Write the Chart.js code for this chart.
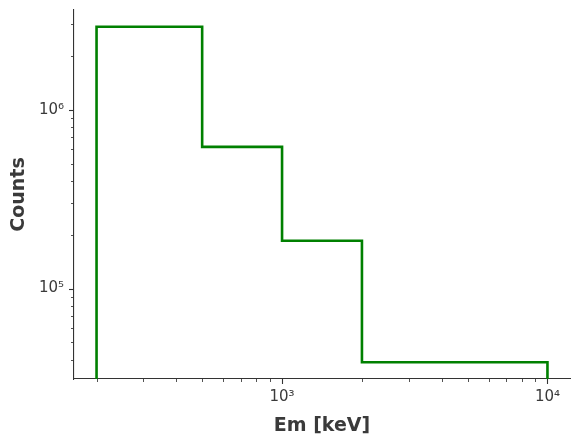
<!DOCTYPE html>
<html>
<head>
<meta charset="utf-8">
<script src="https://cdn.jsdelivr.net/npm/chart.js@4/dist/chart.umd.min.js"></script>
<style>
  html, body { margin: 0; padding: 0; background: #ffffff; }
  #wrap { width: 580px; height: 443px; }
</style>
</head>
<body>
<div id="wrap"><canvas id="c" width="580" height="443"></canvas></div>
<script>
// ---- data ----
const binEdges = [200, 500, 1000, 2000, 10000];          // keV
const binCounts = [2.91e6, 6.2e5, 1.85e5, 3.87e4];        // counts per bin
const xTickLabels = ['10³', '10⁴'];
const yTickLabels = ['10⁵', '10⁶'];
const xMajorValues = [1000, 10000];
const yMajorValues = [1e5, 1e6];
const xTitle = 'Em [keV]';
const yTitle = 'Counts';

// ---- axis limits (matplotlib-like 5% margin in log space) ----
function logLimits(lo, hi) {
  const a = Math.log10(lo), b = Math.log10(hi), m = (b - a) * 0.05;
  return [Math.pow(10, a - m), Math.pow(10, b + m)];
}
const [xMin, xMax] = logLimits(binEdges[0], binEdges[binEdges.length - 1]);
const [yMin, yMax] = logLimits(Math.min(...binCounts), Math.max(...binCounts));

// ---- step outline points ----
const stepPoints = [{x: binEdges[0], y: yMin}];
binCounts.forEach((c, i) => {
  stepPoints.push({x: binEdges[i], y: c});
  stepPoints.push({x: binEdges[i + 1], y: c});
});
stepPoints.push({x: binEdges[binEdges.length - 1], y: yMin});

const AXIS_COLOR = '#333333';
const TEXT_COLOR = '#3a3a3a';
const FONT = "'DejaVu Sans', sans-serif";

function logTicks(min, max) {
  const out = [];
  for (let e = Math.floor(Math.log10(min)); e <= Math.ceil(Math.log10(max)); e++) {
    for (let m = 1; m <= 9; m++) {
      const v = m * Math.pow(10, e);
      if (v >= min && v <= max) out.push({value: v});
    }
  }
  return out;
}
function isMajor(v) {
  const l = Math.log10(v);
  return Math.abs(l - Math.round(l)) < 1e-9;
}
function labelFor(v, majors, labels) {
  for (let i = 0; i < majors.length; i++) {
    if (Math.abs(majors[i] - v) / majors[i] < 1e-9) return labels[i];
  }
  return '';
}

const tickPlugin = {
  id: 'mplTicks',
  afterDraw(chart) {
    const ctx = chart.ctx;
    ctx.save();
    ctx.strokeStyle = AXIS_COLOR;
    const xs = chart.scales.x, ys = chart.scales.y;
    xs.ticks.forEach(t => {
      const major = isMajor(t.value);
      const px = Math.round(xs.getPixelForValue(t.value)) + 0.5;
      ctx.lineWidth = major ? 1.1 : 0.85;
      ctx.beginPath();
      ctx.moveTo(px, xs.top);
      ctx.lineTo(px, xs.top + (major ? 5 : 3));
      ctx.stroke();
    });
    ys.ticks.forEach(t => {
      const major = isMajor(t.value);
      const py = Math.round(ys.getPixelForValue(t.value)) + 0.5;
      ctx.lineWidth = major ? 1.1 : 0.85;
      ctx.beginPath();
      ctx.moveTo(ys.right, py);
      ctx.lineTo(ys.right - (major ? 5 : 3), py);
      ctx.stroke();
    });
    ctx.restore();
  }
};

const bgPlugin = {
  id: 'bg',
  beforeDraw(chart) {
    const ctx = chart.ctx;
    ctx.save();
    ctx.fillStyle = '#ffffff';
    ctx.fillRect(0, 0, chart.width, chart.height);
    ctx.restore();
  }
};

new Chart(document.getElementById('c'), {
  type: 'line',
  data: {
    datasets: [{
      data: stepPoints,
      borderColor: '#008000',
      borderWidth: 2.6,
      pointRadius: 0,
      fill: false,
      tension: 0,
      borderJoinStyle: 'miter',
      borderCapStyle: 'butt'
    }]
  },
  options: {
    responsive: false,
    animation: false,
    devicePixelRatio: 1,
    layout: { padding: { left: 0, right: 10, top: 10, bottom: 0 } },
    plugins: { legend: { display: false }, tooltip: { enabled: false } },
    scales: {
      x: {
        type: 'logarithmic',
        min: xMin, max: xMax,
        afterBuildTicks(scale) { scale.ticks = logTicks(xMin, xMax); },
        afterFit(scale) { scale.height = 64; scale.paddingLeft = 0; scale.paddingRight = 0; scale.paddingTop = 0; scale.paddingBottom = 0; },
        grid: { display: true, drawOnChartArea: false, drawTicks: true, tickLength: 5, color: 'rgba(0,0,0,0)', tickColor: 'rgba(0,0,0,0)' },
        border: { display: true, color: AXIS_COLOR, width: 1.1 },
        ticks: {
          autoSkip: false, maxRotation: 0, padding: 4,
          color: TEXT_COLOR,
          font: { family: FONT, size: 15 },
          callback: (v) => labelFor(v, xMajorValues, xTickLabels)
        },
        title: {
          display: true, text: xTitle, color: TEXT_COLOR,
          font: { family: FONT, size: 19, weight: 'bold' },
          padding: { top: 0, bottom: 6 }
        }
      },
      y: {
        type: 'logarithmic',
        min: yMin, max: yMax,
        afterBuildTicks(scale) { scale.ticks = logTicks(yMin, yMax); },
        afterFit(scale) { scale.width = 74; scale.paddingLeft = 0; scale.paddingRight = 0; scale.paddingTop = 0; scale.paddingBottom = 0; },
        grid: { display: true, drawOnChartArea: false, drawTicks: true, tickLength: 5, color: 'rgba(0,0,0,0)', tickColor: 'rgba(0,0,0,0)' },
        border: { display: true, color: AXIS_COLOR, width: 1.1 },
        ticks: {
          autoSkip: false, padding: 5,
          color: TEXT_COLOR,
          font: { family: FONT, size: 15 },
          callback: (v) => labelFor(v, yMajorValues, yTickLabels)
        },
        title: {
          display: true, text: yTitle, color: TEXT_COLOR,
          font: { family: FONT, size: 19, weight: 'bold' },
          padding: { top: 8, bottom: 0 }
        }
      }
    }
  },
  plugins: [bgPlugin, tickPlugin]
});
</script>
</body>
</html>
